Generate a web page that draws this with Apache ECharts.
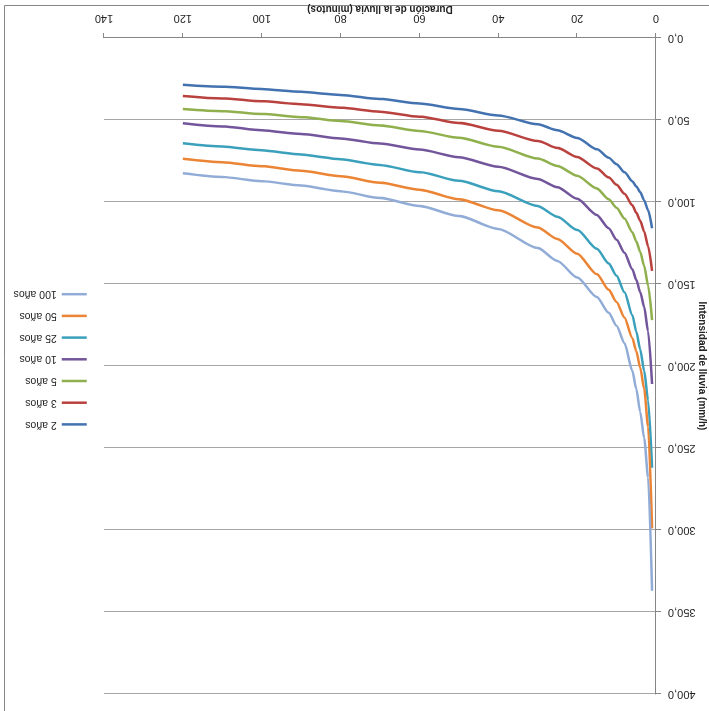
<!DOCTYPE html>
<html>
<head>
<meta charset="utf-8">
<script src="https://cdn.jsdelivr.net/npm/echarts@6/dist/echarts.min.js"></script>
<style>
html,body{margin:0;padding:0;background:#fff;}
#wrap{width:709px;height:711px;transform:rotate(180deg);transform-origin:50% 50%;}
#chart{width:709px;height:711px;}
</style>
</head>
<body>
<div id="wrap"><div id="chart"></div></div>
<script>
// Duration (minutes)
const duration = [1, 2, 3, 4, 5, 6, 8, 10, 12, 15, 20, 25, 30, 40, 50, 60, 70, 80, 90, 100, 110, 120];
// Intensity (mm/h) per return period
const t2   = [116, 105, 99, 94, 90.5, 87.3, 81.8, 77, 73, 67.8, 61, 56.2, 52.6, 47.2, 43.3, 40, 37.2, 34.8, 32.8, 31.1, 29.7, 28.5];
const t3   = [142, 127, 118, 111.5, 106.5, 102, 95, 89.5, 85, 79.5, 72.5, 67, 62.8, 56.5, 51.8, 48, 45, 42.5, 40.4, 38.5, 36.9, 35.4];
const t5   = [172, 151, 139, 130.5, 124, 118.5, 110, 103.5, 98.3, 91.8, 84, 78, 73.5, 66.3, 60.8, 56.7, 53.3, 50.6, 48.3, 46.3, 44.7, 43.3];
const t10  = [211, 179, 164, 155, 147.5, 141, 131, 123, 116, 108, 98, 91, 86, 78.5, 72.7, 68, 64.3, 61.3, 58.6, 56.2, 54, 52];
const t25  = [262, 221, 203, 190, 179, 169, 155, 145, 137.5, 128.5, 117, 109, 102.5, 93.5, 87, 81.8, 77.5, 74, 71, 68.5, 66.2, 64.2];
const t50  = [299, 237, 214, 201, 191, 183, 170.5, 161, 153.5, 144, 131.5, 122.5, 115.5, 105, 98.3, 92.6, 88.2, 84.3, 81, 78.2, 75.8, 73.6];
const t100 = [337, 268, 244, 228, 214, 203, 186, 175.5, 167.5, 158, 146, 136, 128, 116.5, 108.5, 102.5, 97.5, 93.5, 90, 87.3, 84.8, 82.5];

const seriesNames = ['2 años', '3 años', '5 años', '10 años', '25 años', '50 años', '100 años'];
const seriesValues = [t2, t3, t5, t10, t25, t50, t100];
const colors = ['#4372B0', '#B9413E', '#8FB04D', '#72559A', '#3AA0BC', '#EB8535', '#91ACD6'];

const xTitle = 'Duración de la lluvia (minutos)';
const yTitle = 'Intensidad de lluvia (mm/h)';

const font = 'Liberation Sans, Arial, sans-serif';
const chart = echarts.init(document.getElementById('chart'), null, {renderer: 'canvas'});

chart.setOption({
  animation: false,
  backgroundColor: '#ffffff',
  color: colors,
  textStyle: {fontFamily: font},
  grid: {left: 53, right: 104, top: 17, bottom: 38, containLabel: false, outerBoundsMode: 'none'},
  legend: {
    orient: 'vertical',
    left: 616,
    top: 276,
    itemWidth: 25,
    itemHeight: 14,
    itemGap: 10.5,
    data: seriesNames,
    itemStyle: {opacity: 0, borderWidth: 0},
    lineStyle: {width: 2.5},
    textStyle: {fontSize: 10.5, color: '#222', fontFamily: font}
  },
  xAxis: {
    type: 'value',
    min: 0, max: 140, interval: 20,
    name: xTitle,
    nameLocation: 'middle',
    nameGap: 24,
    nameMoveOverlap: false,
    nameTextStyle: {fontSize: 10, fontWeight: 'bold', color: '#222', fontFamily: font},
    axisLine: {show: true, onZero: false, lineStyle: {color: '#868686', width: 1}},
    axisTick: {show: true, inside: false, length: 5, lineStyle: {color: '#868686'}},
    axisLabel: {margin: 14, fontSize: 11, color: '#222', fontFamily: font},
    splitLine: {show: false}
  },
  yAxis: {
    type: 'value',
    min: 0, max: 400, interval: 50,
    name: yTitle,
    nameLocation: 'middle',
    nameGap: 41,
    nameMoveOverlap: false,
    nameTextStyle: {fontSize: 10, fontWeight: 'bold', color: '#222', fontFamily: font},
    axisLine: {show: true, lineStyle: {color: '#868686', width: 1}},
    axisTick: {show: true, inside: false, length: 5, lineStyle: {color: '#868686'}},
    axisLabel: {
      margin: 12, fontSize: 11, color: '#222', fontFamily: font,
      formatter: v => v.toFixed(1).replace('.', ',')
    },
    splitLine: {show: true, lineStyle: {color: '#a6a6a6', width: 1}}
  },
  graphic: [
    {type: 'line', shape: {x1: 704.5, y1: 0, x2: 704.5, y2: 705.5}, style: {stroke: '#868686', lineWidth: 1}},
    {type: 'line', shape: {x1: 0, y1: 705.5, x2: 704.5, y2: 705.5}, style: {stroke: '#868686', lineWidth: 1}}
  ],
  series: seriesNames.map((name, k) => ({
    name: name,
    type: 'line',
    symbol: 'none',
    smooth: 0.25,
    smoothMonotone: 'x',
    lineStyle: {width: 2.5, color: colors[k]},
    itemStyle: {color: colors[k]},
    data: duration.map((d, i) => [d, seriesValues[k][i]])
  }))
});
</script>
</body>
</html>
